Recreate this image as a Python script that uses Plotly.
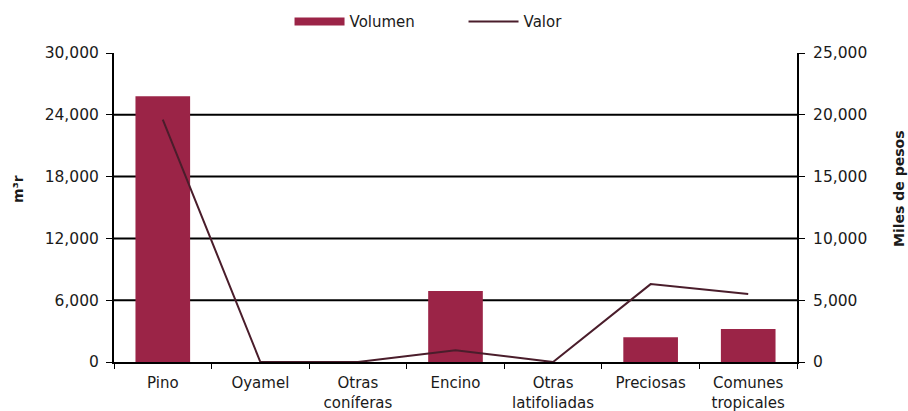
import plotly.graph_objects as go

categorias = ["Pino", "Oyamel", "Otras<br>coníferas", "Encino", "Otras<br>latifoliadas", "Preciosas", "Comunes<br>tropicales"]
volumen = [25800, 0, 0, 6900, 0, 2400, 3200]
valor = [19600, 0, 0, 950, 0, 6300, 5500]

left_ticks = [0, 6000, 12000, 18000, 24000, 30000]
right_ticks = [0, 5000, 10000, 15000, 20000, 25000]

FONT = "DejaVu Sans, sans-serif"
BAR_COLOR = "#9B2447"
LINE_COLOR = "#4A1D2B"

fig = go.Figure()
fig.add_trace(go.Bar(x=categorias, y=volumen, name="Volumen", showlegend=False,
                     marker=dict(color=BAR_COLOR, line=dict(width=0)), yaxis="y"))
fig.add_trace(go.Scatter(x=categorias, y=valor, name="Valor", mode="lines", showlegend=False,
                         line=dict(color=LINE_COLOR, width=2), yaxis="y2"))
# legend entries
fig.add_trace(go.Scatter(x=[None], y=[None], name="Volumen", mode="lines",
                         line=dict(color=BAR_COLOR, width=8)))
fig.add_trace(go.Scatter(x=[None], y=[None], name="Valor", mode="lines",
                         line=dict(color=LINE_COLOR, width=2)))

# horizontal gridlines (inner ticks only, as in the reference)
for v in left_ticks[1:-1]:
    fig.add_shape(type="line", xref="paper", x0=0, x1=1, yref="y", y0=v, y1=v,
                  line=dict(color="black", width=2), layer="below")

fig.update_layout(
    width=908, height=411,
    margin=dict(l=114, r=111, t=53, b=49, autoexpand=False),
    paper_bgcolor="white", plot_bgcolor="white",
    font=dict(family=FONT, size=15, color="#1a1a1a"),
    bargap=0.44,
    showlegend=True,
    legend=dict(orientation="h", x=0.257, xanchor="left", y=0.947, yref="container",
                yanchor="middle", font=dict(size=15), itemwidth=50,
                entrywidth=109, traceorder="normal", bgcolor="rgba(0,0,0,0)"),
    xaxis=dict(showline=True, linecolor="black", linewidth=2, ticks="outside",
               tickson="boundaries", tickcolor="black", ticklen=5, showgrid=False,
               automargin=False, tickfont=dict(size=15), ticklabelstandoff=6),
    yaxis=dict(range=[0, 30000], tickvals=left_ticks, tickformat=",",
               showline=True, linecolor="black", linewidth=2,
               ticks="outside", tickcolor="black", ticklen=6,
               showgrid=False, zeroline=False, automargin=False,
               tickfont=dict(size=15.5), ticklabelstandoff=4),
    yaxis2=dict(range=[0, 25000], tickvals=right_ticks, tickformat=",",
                overlaying="y", side="right",
                showline=True, linecolor="black", linewidth=2,
                ticks="outside", tickcolor="black", ticklen=6,
                showgrid=False, zeroline=False, automargin=False,
                tickfont=dict(size=15.5), ticklabelstandoff=5),
    annotations=[
        dict(text="<b>m³r</b>", xref="paper", yref="paper", x=0, y=0.56, xshift=-96,
             xanchor="center", yanchor="middle",
             textangle=-90, showarrow=False, font=dict(size=14, color="#1a1a1a")),
        dict(text="<b>Miles de pesos</b>", xref="paper", yref="paper", x=1, y=0.56, xshift=102,
             xanchor="center", yanchor="middle",
             textangle=-90, showarrow=False, font=dict(size=14, color="#1a1a1a")),
    ],
)

fig.write_html("out.html", config={"displayModeBar": False},
               post_script="document.body.style.margin='0';")
